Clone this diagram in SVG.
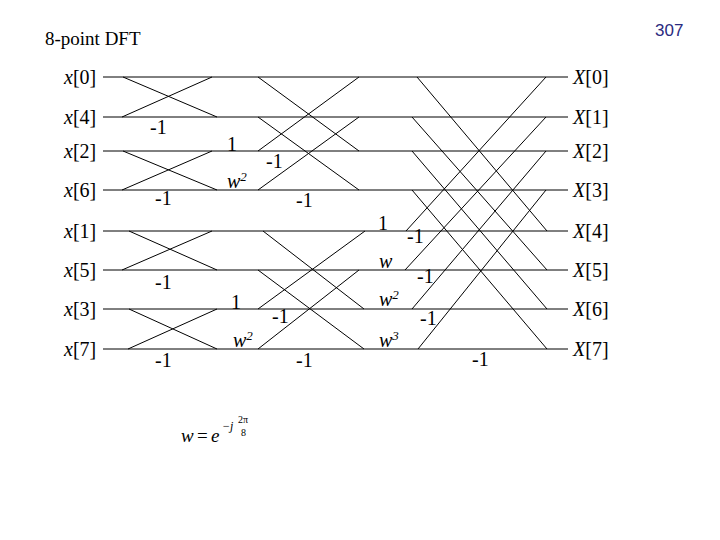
<svg xmlns="http://www.w3.org/2000/svg" width="720" height="540" viewBox="0 0 720 540">
<style>
.t{font-family:"Liberation Serif",serif;font-size:20px;fill:#000}
.i{font-style:italic}
.s{font-size:13px}
line{stroke:#000;stroke-width:1}
</style>
<rect width="720" height="540" fill="#fff"/>
<text x="45" y="45" class="t" style="font-size:19px">8-point DFT</text>
<text x="655" y="36" font-family="Liberation Sans,sans-serif" font-size="17" fill="#2a2a80">307</text>
<g id="inputs">
<text x="64" y="84" class="t"><tspan class="i">x</tspan>[0]</text>
<text x="64" y="124" class="t"><tspan class="i">x</tspan>[4]</text>
<text x="64" y="158" class="t"><tspan class="i">x</tspan>[2]</text>
<text x="64" y="197" class="t"><tspan class="i">x</tspan>[6]</text>
<text x="64" y="238" class="t"><tspan class="i">x</tspan>[1]</text>
<text x="64" y="277" class="t"><tspan class="i">x</tspan>[5]</text>
<text x="64" y="316" class="t"><tspan class="i">x</tspan>[3]</text>
<text x="64" y="356" class="t"><tspan class="i">x</tspan>[7]</text>
</g>
<g id="outputs">
<text x="573" y="84" class="t"><tspan class="i">X</tspan>[0]</text>
<text x="573" y="124" class="t"><tspan class="i">X</tspan>[1]</text>
<text x="573" y="158" class="t"><tspan class="i">X</tspan>[2]</text>
<text x="573" y="197" class="t"><tspan class="i">X</tspan>[3]</text>
<text x="573" y="238" class="t"><tspan class="i">X</tspan>[4]</text>
<text x="573" y="277" class="t"><tspan class="i">X</tspan>[5]</text>
<text x="573" y="316" class="t"><tspan class="i">X</tspan>[6]</text>
<text x="573" y="356" class="t"><tspan class="i">X</tspan>[7]</text>
</g>
<g id="connectors">
<line x1="103" y1="77" x2="568" y2="77"/>
<line x1="103" y1="117" x2="568" y2="117"/>
<line x1="103" y1="151" x2="568" y2="151"/>
<line x1="103" y1="190" x2="568" y2="190"/>
<line x1="103" y1="231" x2="568" y2="231"/>
<line x1="103" y1="270" x2="568" y2="270"/>
<line x1="103" y1="309" x2="568" y2="309"/>
<line x1="103" y1="349" x2="568" y2="349"/>
<line x1="123" y1="77" x2="217" y2="117"/><line x1="122" y1="117" x2="212" y2="77"/>
<line x1="123" y1="151" x2="217" y2="190"/><line x1="122" y1="190" x2="212" y2="151"/>
<line x1="129" y1="231" x2="217" y2="270"/><line x1="122" y1="270" x2="212" y2="231"/>
<line x1="129" y1="309" x2="217" y2="349"/><line x1="128" y1="349" x2="217" y2="309"/>
<line x1="258" y1="77" x2="359" y2="151"/><line x1="258" y1="117" x2="359" y2="190"/>
<line x1="258" y1="151" x2="359" y2="77"/><line x1="258" y1="190" x2="359" y2="117"/>
<line x1="263" y1="231" x2="364" y2="309"/><line x1="258" y1="270" x2="364" y2="349"/>
<line x1="258" y1="309" x2="365" y2="231"/><line x1="258" y1="349" x2="359" y2="270"/>
<line x1="417" y1="77" x2="547" y2="231"/><line x1="412" y1="117" x2="547" y2="270"/>
<line x1="412" y1="151" x2="547" y2="309"/><line x1="412" y1="190" x2="547" y2="349"/>
<line x1="406" y1="231" x2="546" y2="77"/><line x1="405" y1="270" x2="546" y2="117"/>
<line x1="412" y1="309" x2="546" y2="151"/><line x1="418" y1="349" x2="546" y2="190"/>
</g>
<g id="weights">
<text x="150" y="134" class="t">-1</text>
<text x="155" y="205" class="t">-1</text>
<text x="155" y="289" class="t">-1</text>
<text x="155" y="367" class="t">-1</text>
<text x="227" y="151" class="t">1</text>
<text x="227" y="188" class="t i">w<tspan class="s" dy="-7">2</tspan></text>
<text x="266" y="168" class="t">-1</text>
<text x="296" y="207" class="t">-1</text>
<text x="231" y="309" class="t">1</text>
<text x="233" y="347" class="t i">w<tspan class="s" dy="-7">2</tspan></text>
<text x="272" y="323" class="t">-1</text>
<text x="296" y="367" class="t">-1</text>
<text x="378" y="230" class="t">1</text>
<text x="379" y="268" class="t i">w</text>
<text x="379" y="306" class="t i">w<tspan class="s" dy="-7">2</tspan></text>
<text x="379" y="347" class="t i">w<tspan class="s" dy="-7">3</tspan></text>
<text x="407" y="243" class="t">-1</text>
<text x="417" y="283" class="t">-1</text>
<text x="420" y="325" class="t">-1</text>
<text x="472" y="366" class="t">-1</text>
</g>
<g id="formula" font-family="Liberation Serif,serif" font-style="italic">
<text x="181" y="442" font-size="19">w</text>
<text x="197" y="442" font-size="19" font-style="normal">=</text>
<text x="211" y="442" font-size="19">e</text>
<text x="222" y="430" font-size="12">−j</text>
<text x="238" y="423" font-size="10" font-style="normal">2π</text>
<text x="241" y="436" font-size="10" font-style="normal">8</text>
</g>
</svg>
